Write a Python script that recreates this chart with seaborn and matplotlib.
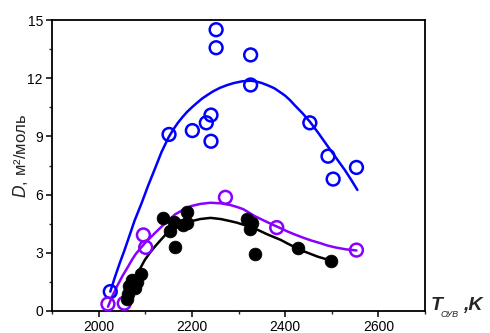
import matplotlib
matplotlib.use("Agg")
import matplotlib.pyplot as plt
import seaborn as sns
from matplotlib.ticker import MultipleLocator

# ---- data ----
blue_T = [2025, 2151, 2201, 2231, 2241, 2241, 2252, 2252, 2326, 2326, 2453, 2492, 2503, 2553]
blue_D = [1.0, 9.1, 9.3, 9.7, 10.1, 8.75, 14.5, 13.57, 13.2, 11.65, 9.7, 7.98, 6.8, 7.4]

purple_T = [2020, 2055, 2096, 2101, 2272, 2382, 2553]
purple_D = [0.36, 0.4, 3.92, 3.28, 5.86, 4.3, 3.14]

black_T = [2060, 2063, 2066, 2071, 2078, 2083, 2090, 2139, 2154, 2161, 2164, 2182,
           2190, 2190, 2318, 2330, 2325, 2336, 2427, 2498]
black_D = [0.6, 0.9, 1.3, 1.6, 1.2, 1.5, 1.9, 4.8, 4.1, 4.6, 3.3, 4.45,
           5.12, 4.55, 4.75, 4.55, 4.25, 2.95, 3.26, 2.6]

blue_fit_T = [2025, 2035, 2045, 2055, 2063, 2077, 2092, 2106, 2121, 2135, 2150, 2160,
              2170, 2180, 2190, 2201, 2212, 2222, 2233, 2246, 2260, 2275, 2290, 2308,
              2326, 2338, 2350, 2363, 2377, 2388, 2400, 2410, 2420, 2437, 2453, 2472,
              2492, 2510, 2528, 2542, 2555]
blue_fit_D = [1.0, 1.75, 2.45, 3.1, 3.66, 4.65, 5.55, 6.45, 7.35, 8.2, 8.95, 9.35,
              9.7, 10.0, 10.27, 10.52, 10.75, 10.95, 11.13, 11.33, 11.5, 11.64, 11.75, 11.84,
              11.87, 11.83, 11.75, 11.63, 11.48, 11.3, 11.1, 10.88, 10.62, 10.2, 9.76, 9.15,
              8.47, 7.87, 7.27, 6.75, 6.24]

purple_fit_T = [2020, 2030, 2040, 2051, 2063, 2071, 2080, 2090, 2099, 2110, 2120, 2135,
                2150, 2164, 2180, 2197, 2218, 2240, 2262, 2283, 2297, 2310, 2322, 2334,
                2347, 2360, 2375, 2391, 2405, 2420, 2442, 2458, 2475, 2490, 2507, 2530, 2553]
purple_fit_D = [0.22, 0.8, 1.3, 1.8, 2.28, 2.62, 2.95, 3.24, 3.49, 3.76, 4.0, 4.35,
                4.68, 4.98, 5.2, 5.4, 5.52, 5.58, 5.55, 5.46, 5.36, 5.25, 5.08, 4.9,
                4.75, 4.6, 4.43, 4.26, 4.1, 3.95, 3.75, 3.62, 3.5, 3.38, 3.28, 3.18, 3.12]

black_fit_T = [2058, 2066, 2075, 2087, 2099, 2110, 2120, 2132, 2143, 2156, 2170, 2183,
               2197, 2218, 2240, 2262, 2283, 2297, 2310, 2322, 2334, 2347, 2360, 2375,
               2391, 2405, 2420, 2431, 2442, 2456, 2470, 2484, 2498]
black_fit_D = [0.5, 1.0, 1.5, 2.1, 2.63, 3.0, 3.3, 3.63, 3.92, 4.15, 4.35, 4.5,
               4.62, 4.74, 4.8, 4.74, 4.63, 4.55, 4.45, 4.36, 4.26, 4.12, 3.97, 3.82,
               3.66, 3.48, 3.3, 3.18, 3.06, 2.93, 2.8, 2.7, 2.62]

x_ticks = [2000, 2200, 2400, 2600]
y_ticks = [0, 3, 6, 9, 12, 15]

BLUE = "#0000FF"
PURPLE = "#8A00FF"
BLACK = "#000000"

sns.set_style("ticks")
plt.rcParams["font.family"] = ["Liberation Sans", "DejaVu Sans"]

fig = plt.figure(figsize=(4.9, 3.33), dpi=100)
ax = fig.add_axes([52 / 490, 22 / 333, 373 / 490, 291 / 333])

lw = 1.8
sns.lineplot(x=blue_fit_T, y=blue_fit_D, ax=ax, color=BLUE, lw=lw, sort=False, estimator=None)
sns.lineplot(x=purple_fit_T, y=purple_fit_D, ax=ax, color=PURPLE, lw=lw, sort=False, estimator=None)
sns.lineplot(x=black_fit_T, y=black_fit_D, ax=ax, color=BLACK, lw=lw, sort=False, estimator=None)

ms = 85
sns.scatterplot(x=blue_T, y=blue_D, ax=ax, s=ms, facecolor="none", edgecolor=BLUE,
                linewidth=1.8, clip_on=False, zorder=5)
sns.scatterplot(x=purple_T, y=purple_D, ax=ax, s=ms, facecolor="none", edgecolor=PURPLE,
                linewidth=1.8, clip_on=False, zorder=5)
sns.scatterplot(x=black_T, y=black_D, ax=ax, s=ms, color=BLACK, edgecolor=BLACK,
                linewidth=0.5, clip_on=False, zorder=6)

ax.set_xlim(1900, 2700)
ax.set_ylim(0, 15)
ax.set_xticks(x_ticks)
ax.set_yticks(y_ticks)
ax.xaxis.set_minor_locator(MultipleLocator(100))
ax.yaxis.set_minor_locator(MultipleLocator(1.5))
ax.tick_params(which="major", direction="out", length=4, width=1.1, labelsize=10,
               colors="black", pad=2.5)
ax.tick_params(which="minor", direction="out", length=2.5, width=1.0)
for s in ax.spines.values():
    s.set_linewidth(1.3)
    s.set_color("black")

ax.set_xlabel("")
ax.set_ylabel("")
fig.text(20 / 490, 1 - 156 / 333, "$\\it{D}$, м²/моль", rotation=90, fontsize=12,
         ha="center", va="center")

# x-axis label: T_ОУВ ,K
fig.text(431 / 490, 1 - 310 / 333, "T", fontsize=14, fontweight="bold", fontstyle="italic",
         ha="left", va="baseline")
fig.text(441 / 490, 1 - 317 / 333, "ОУВ", fontsize=6.5, fontstyle="italic",
         ha="left", va="baseline")
fig.text(463 / 490, 1 - 310 / 333, ",K", fontsize=14, fontweight="bold", fontstyle="italic",
         ha="left", va="baseline")

fig.savefig("out.png", dpi=100, facecolor="white")
